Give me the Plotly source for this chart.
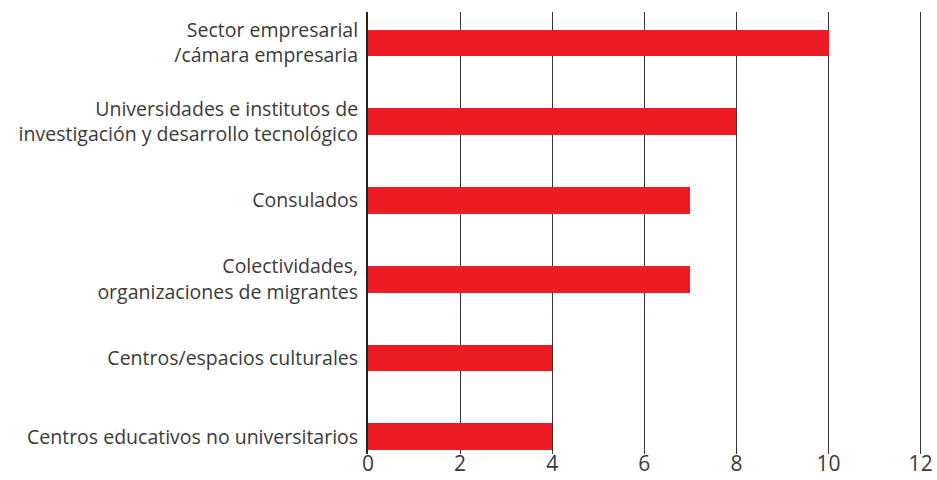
import plotly.graph_objects as go

categories = [
    "Centros educativos no universitarios",
    "Centros/espacios culturales",
    "Colectividades,<br>organizaciones de migrantes",
    "Consulados",
    "Universidades e institutos de<br>investigación y desarrollo tecnológico",
    "Sector empresarial<br>/cámara empresaria",
]
values = [4, 4, 7, 7, 8, 10]
x_ticks = [0, 2, 4, 6, 8, 10, 12]

fig = go.Figure(go.Bar(
    x=values, y=categories, orientation="h",
    marker=dict(color="#ED1C24", line=dict(width=0)),
    width=0.34,
))

fig.update_layout(
    width=937, height=480,
    margin=dict(l=368, r=15, t=12, b=26, autoexpand=False),
    plot_bgcolor="white", paper_bgcolor="white",
    font=dict(family="Open Sans, sans-serif", size=19.5, color="#3a3a3a"),
    showlegend=False,
    bargap=0,
)
fig.update_xaxes(
    range=[0, 12.03], tickvals=x_ticks, showgrid=True, gridcolor="#333333", gridwidth=1,
    zeroline=False, showline=False, ticks="", tickfont=dict(size=21, color="#3a3a3a"),
    fixedrange=True, automargin=False, ticklabelstandoff=-5,
)
fig.update_yaxes(
    categoryorder="array", categoryarray=categories,
    range=[-0.22, 5.393], showgrid=False, zeroline=False,
    showline=True, linecolor="#222222", linewidth=2, ticks="",
    ticklabelstandoff=4, automargin=False, fixedrange=True,
)
fig.write_html("out.html", config={"displayModeBar": False},
               post_script="document.body.style.margin='0px';")
